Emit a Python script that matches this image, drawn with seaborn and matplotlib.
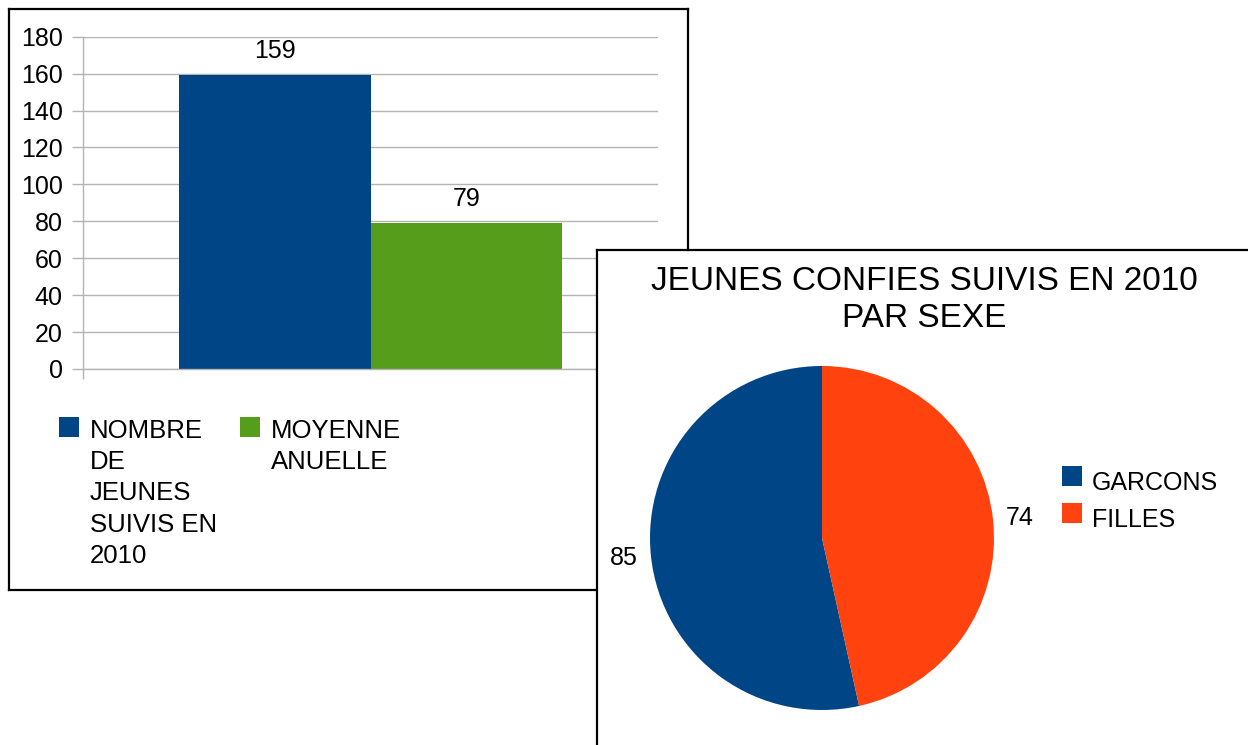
import matplotlib
matplotlib.use("Agg")
import matplotlib.pyplot as plt
from matplotlib.patches import Rectangle
import seaborn as sns
import pandas as pd

# ---------------- data ----------------
bar_group = ["2010", "2010"]
bar_series = ["NOMBRE DE JEUNES SUIVIS EN 2010", "MOYENNE ANUELLE"]
bar_legend_text = ["NOMBRE\nDE\nJEUNES\nSUIVIS EN\n2010", "MOYENNE\nANUELLE"]
bar_values = [159, 79]
bar_yticks = [0, 20, 40, 60, 80, 100, 120, 140, 160, 180]

pie_title = "JEUNES CONFIES SUIVIS EN 2010\nPAR SEXE"
pie_labels = ["GARCONS", "FILLES"]
pie_values = [85, 74]

# ---------------- style ----------------
BLUE = "#004586"
GREEN = "#579d1c"
ORANGE = "#ff420e"
GRID = "#b3b3b3"
bar_colors = [BLUE, GREEN]
pie_colors = [BLUE, ORANGE]

sns.set_style("white")
plt.rcParams["font.family"] = ["Liberation Sans", "DejaVu Sans"]
plt.rcParams["text.color"] = "black"
plt.rcParams["xtick.labelcolor"] = "black"
plt.rcParams["ytick.labelcolor"] = "black"
plt.rcParams["patch.edgecolor"] = "none"

W, H = 1248, 745
fig = plt.figure(figsize=(W / 100, H / 100), dpi=100)


def fx(px):
    return px / W


def fy(py):
    return 1 - py / H


def panel(x0, y0, x1, y1, z):
    a = fig.add_axes([fx(x0), fy(y1), (x1 - x0) / W, (y1 - y0) / H])
    a.set_xticks([])
    a.set_yticks([])
    a.set_facecolor("white")
    for s in a.spines.values():
        s.set_visible(True)
        s.set_color("black")
        s.set_linewidth(1.6)
    a.set_zorder(z)
    return a


# ---------------- left panel: bar chart ----------------
panel(9, 9, 688, 590, 0)

ax = fig.add_axes([fx(83), fy(369), (658 - 83) / W, (369 - 36.7) / H])
ax.set_zorder(1)
ax.patch.set_alpha(0)
df = pd.DataFrame({"group": bar_group, "series": bar_series, "value": bar_values})
sns.barplot(data=df, x="group", y="value", hue="series", hue_order=bar_series,
            palette=bar_colors, width=2 / 3, saturation=1, legend=False,
            linewidth=0, edgecolor="none", ax=ax)
ax.set_xlim(-0.5, 0.5)
ax.set_ylim(0, 180)
ax.set_yticks(bar_yticks)
ax.set_yticklabels([str(v) for v in bar_yticks])
ax.set_xticks([-0.5])
ax.set_xticklabels([""])
ax.set_xlabel("")
ax.set_ylabel("")
ax.grid(axis="y", color=GRID, lw=1)
ax.set_axisbelow(True)
ax.tick_params(axis="x", length=7.5, color=GRID, width=1, direction="out", bottom=True)
ax.tick_params(axis="y", length=8, color=GRID, width=1, pad=6.5, labelsize=18,
               direction="out", left=True, labelcolor="black")
for side in ["top", "right"]:
    ax.spines[side].set_visible(False)
for side in ["left", "bottom"]:
    ax.spines[side].set_color(GRID)
    ax.spines[side].set_linewidth(1)
for c in ax.containers:
    ax.bar_label(c, fontsize=18, padding=9, color="black")

# legend of bar chart
leg_x = [59, 240]
for i, (lab, col) in enumerate(zip(bar_legend_text, bar_colors)):
    fig.add_artist(Rectangle((fx(leg_x[i]), fy(437)), 20 / W, 20 / H,
                             transform=fig.transFigure, facecolor=col,
                             edgecolor="none", zorder=0.5))
    fig.text(fx(leg_x[i] + 31), fy(419), lab, fontsize=18.5, va="top", ha="left",
             linespacing=1.38, color="black", zorder=0.5)

# ---------------- right panel: pie chart ----------------
panel(597, 250, 1300, 800, 2)

R = 172
cx, cy = 822, 538
side = 2.5 * R
ax2 = fig.add_axes([fx(cx - side / 2), fy(cy + side / 2), side / W, side / H])
ax2.set_zorder(3)
ax2.patch.set_alpha(0)
ax2.pie(pie_values, colors=pie_colors, startangle=90, counterclock=True,
        labels=[str(v) for v in pie_values], labeldistance=1.075,
        textprops=dict(fontsize=18, color="black"),
        wedgeprops=dict(linewidth=0, edgecolor="none"))
ax2.set_xlim(-1.25, 1.25)
ax2.set_ylim(-1.25, 1.25)
ax2.set_aspect("equal")
ax2.axis("off")

fig.text(fx(924), fy(266), pie_title, fontsize=24, ha="center", va="top",
         multialignment="center", linespacing=1.27, color="black", zorder=5)

for i, (lab, col) in enumerate(zip(pie_labels, pie_colors)):
    top = 466 + 37 * i
    fig.add_artist(Rectangle((fx(1062), fy(top + 20)), 20 / W, 20 / H,
                             transform=fig.transFigure, facecolor=col,
                             edgecolor="none", zorder=5))
    fig.text(fx(1092), fy(top + 24), lab, fontsize=18, va="baseline", ha="left",
             color="black", zorder=5)

fig.savefig("out.png", dpi=100)
